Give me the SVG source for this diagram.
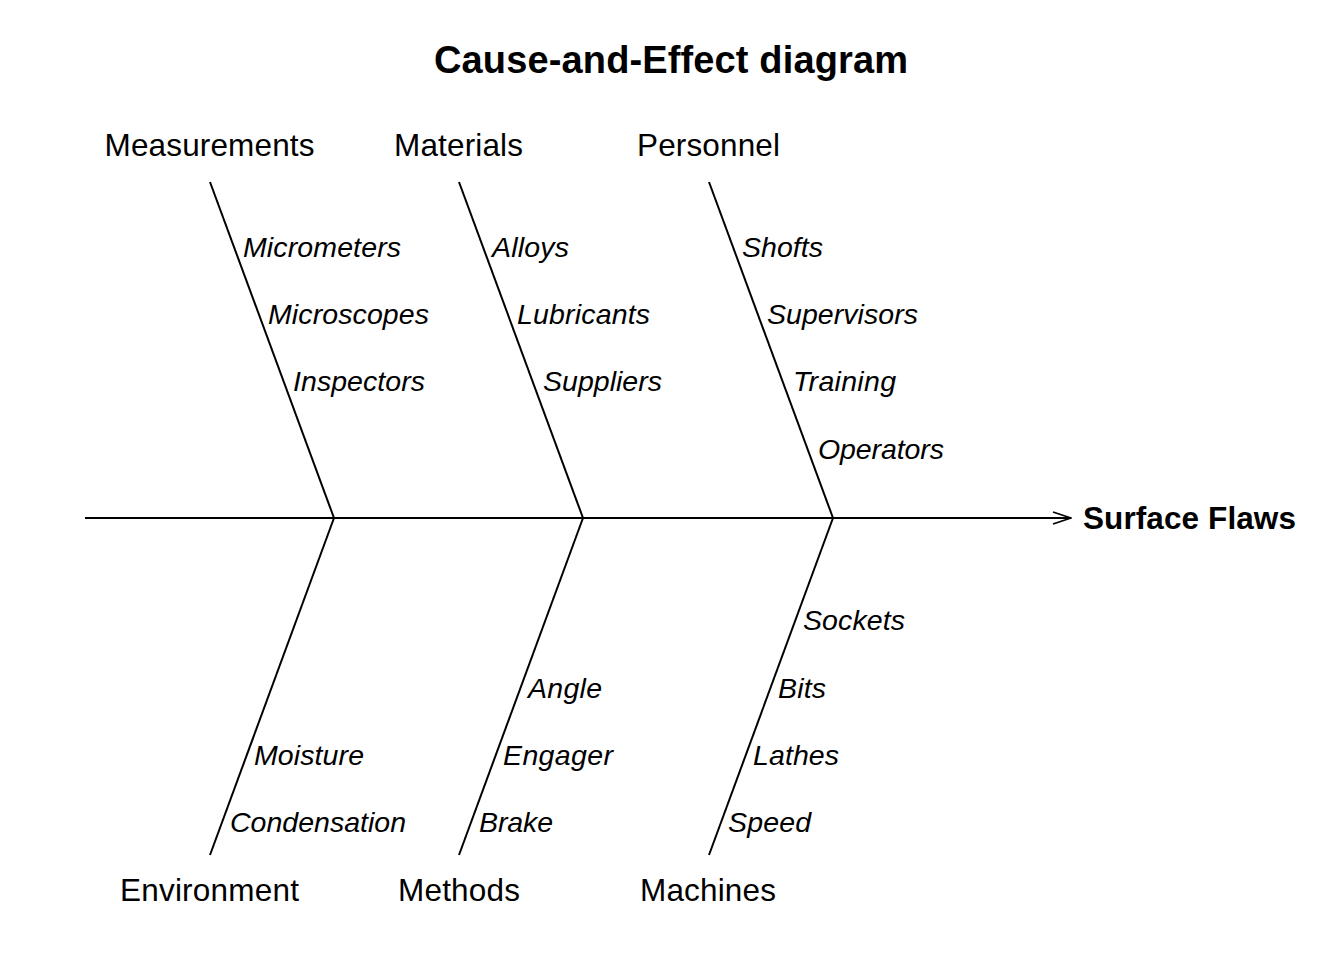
<svg xmlns="http://www.w3.org/2000/svg" width="1344" height="960" viewBox="0 0 1344 960">
<defs>
<style>
text{font-family:"Liberation Sans",Arial,sans-serif;fill:#000}
.title{font-size:38px;font-weight:bold;text-anchor:middle}
.cat{font-size:31.5px;text-anchor:middle}
.cause{font-size:28.5px;font-style:italic}
.effect{font-size:31.5px;font-weight:bold}
.bone{stroke:#000;stroke-width:2;fill:none}
</style>
<marker id="arr" viewBox="0 0 20 14" refX="19" refY="7" markerWidth="20" markerHeight="14" markerUnits="userSpaceOnUse" orient="auto">
<path d="M1,1 L19,7 L1,13" fill="none" stroke="#000" stroke-width="1.8"/>
</marker>
</defs>
<rect width="1344" height="960" fill="#fff"/>
<text class="title" x="671" y="73" textLength="474" lengthAdjust="spacing">Cause-and-Effect diagram</text>
<g id="connectors">
<line class="bone" x1="85" y1="518" x2="1071" y2="518" marker-end="url(#arr)"/>
<line class="bone" x1="210" y1="182" x2="334" y2="518"/>
<line class="bone" x1="459" y1="182" x2="583" y2="518"/>
<line class="bone" x1="709" y1="182" x2="833" y2="518"/>
<line class="bone" x1="334" y1="518" x2="210" y2="855"/>
<line class="bone" x1="583" y1="518" x2="459" y2="855"/>
<line class="bone" x1="833" y1="518" x2="709" y2="855"/>
</g>
<g id="effect"><text class="effect" x="1083" y="529" textLength="213" lengthAdjust="spacing">Surface Flaws</text></g>
<g id="measurements">
<text class="cat" x="209.5" y="156" textLength="210" lengthAdjust="spacing">Measurements</text>
<text class="cause" x="243" y="257" textLength="158" lengthAdjust="spacing">Micrometers</text>
<text class="cause" x="268" y="324" textLength="161" lengthAdjust="spacing">Microscopes</text>
<text class="cause" x="293" y="391" textLength="132" lengthAdjust="spacing">Inspectors</text>
</g>
<g id="materials">
<text class="cat" x="458.5" y="156" textLength="129" lengthAdjust="spacing">Materials</text>
<text class="cause" x="492" y="257" textLength="77" lengthAdjust="spacing">Alloys</text>
<text class="cause" x="517" y="324" textLength="133" lengthAdjust="spacing">Lubricants</text>
<text class="cause" x="543" y="391" textLength="119" lengthAdjust="spacing">Suppliers</text>
</g>
<g id="personnel">
<text class="cat" x="708.5" y="156" textLength="143" lengthAdjust="spacing">Personnel</text>
<text class="cause" x="742" y="257" textLength="81" lengthAdjust="spacing">Shofts</text>
<text class="cause" x="767" y="324" textLength="151" lengthAdjust="spacing">Supervisors</text>
<text class="cause" x="793" y="391" textLength="103" lengthAdjust="spacing">Training</text>
<text class="cause" x="818" y="459" textLength="126" lengthAdjust="spacing">Operators</text>
</g>
<g id="environment">
<text class="cat" x="209.5" y="901" textLength="179" lengthAdjust="spacing">Environment</text>
<text class="cause" x="254" y="765" textLength="110" lengthAdjust="spacing">Moisture</text>
<text class="cause" x="230" y="832" textLength="176" lengthAdjust="spacing">Condensation</text>
</g>
<g id="methods">
<text class="cat" x="459" y="901" textLength="122" lengthAdjust="spacing">Methods</text>
<text class="cause" x="528" y="698" textLength="74" lengthAdjust="spacing">Angle</text>
<text class="cause" x="503" y="765" textLength="110" lengthAdjust="spacing">Engager</text>
<text class="cause" x="479" y="832" textLength="74" lengthAdjust="spacing">Brake</text>
</g>
<g id="machines">
<text class="cat" x="708" y="901" textLength="136" lengthAdjust="spacing">Machines</text>
<text class="cause" x="803" y="630" textLength="102" lengthAdjust="spacing">Sockets</text>
<text class="cause" x="778" y="698" textLength="48" lengthAdjust="spacing">Bits</text>
<text class="cause" x="753" y="765" textLength="86" lengthAdjust="spacing">Lathes</text>
<text class="cause" x="728" y="832" textLength="83" lengthAdjust="spacing">Speed</text>
</g>
</svg>
